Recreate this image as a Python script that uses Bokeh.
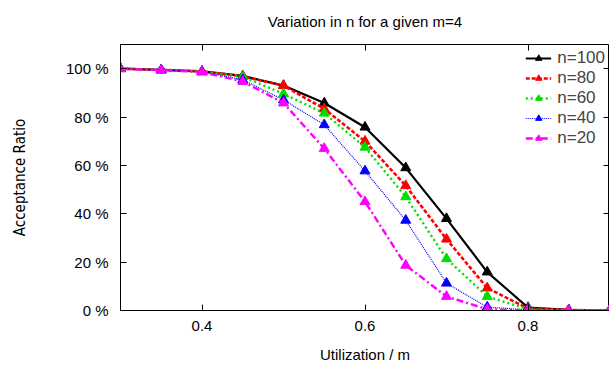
from bokeh.plotting import figure
from bokeh.models import LinearAxis, Range1d, FixedTicker, CustomJSTickFormatter, Legend, LegendItem
from bokeh.embed import file_html
from bokeh.resources import INLINE

utilization = [0.30, 0.35, 0.40, 0.45, 0.50, 0.55, 0.60, 0.65, 0.70, 0.75, 0.80, 0.85, 0.90]
n100 = [100, 99.5, 98.9, 97.0, 93.0, 85.8, 75.8, 59.0, 38.0, 15.9, 1.2, 0.3, 0.0]
n80 = [100, 99.5, 98.9, 96.8, 93.0, 83.4, 70.0, 51.6, 29.5, 9.3, 0.8, 0.2, 0.0]
n60 = [100, 99.5, 98.8, 96.7, 89.6, 81.6, 67.5, 47.0, 21.4, 5.8, 0.5, 0.1, 0.0]
n40 = [100, 99.5, 98.7, 95.4, 87.1, 76.8, 57.7, 37.3, 11.3, 1.4, 0.3, 0.0, 0.0]
n20 = [100, 99.4, 98.6, 94.7, 85.8, 67.0, 45.0, 18.7, 5.8, 0.5, 0.0, 0.0, 0.0]

series_names = ["n=100", "n=80", "n=60", "n=40", "n=20"]
series_vals = [n100, n80, n60, n40, n20]
colors = ["#000000", "#ff0000", "#00dd00", "#0000ff", "#ff00ff"]
dashes = ["solid", "4 2", "2 3", "1 1", "7 3 2 3"]
widths = [2.2, 2.6, 2.4, 1.2, 2.4]

y_ticks = [0, 20, 40, 60, 80, 100]
x_ticks = [0.4, 0.6, 0.8]

FONT = "Liberation Sans"
NARROW = "'DejaVu Sans Condensed', 'Liberation Sans Narrow', 'Liberation Sans', sans-serif"

p = figure(width=609, height=365, output_backend="svg", toolbar_location=None,
           x_range=Range1d(0.3, 0.9), y_range=Range1d(0, 110),
           min_border_left=120, min_border_right=0, min_border_top=10, min_border_bottom=55,
           title="Variation in n for a given m=4")
p.title.align = "center"
p.title.vertical_align = "top"
p.title.text_font = FONT
p.title.text_font_size = "15px"
p.title.text_font_style = "normal"
p.title.text_color = "#000000"
p.title.standoff = 25

p.grid.visible = False
p.outline_line_color = "#000000"
p.outline_line_width = 1
p.background_fill_color = "#ffffff"
p.border_fill_color = "#ffffff"

for ax in [p.xaxis[0], p.yaxis[0]]:
    ax.major_tick_in = 6
    ax.major_tick_out = 0
    ax.minor_tick_line_color = None
    ax.axis_line_color = "#000000"
    ax.major_tick_line_color = "#000000"
    ax.major_label_text_font = FONT
    ax.major_label_text_font_size = "15px"
    ax.major_label_text_color = "#000000"
    ax.axis_label_text_font_style = "normal"
    ax.axis_label_text_color = "#000000"

p.xaxis[0].ticker = FixedTicker(ticks=x_ticks)
p.xaxis[0].major_label_standoff = 10
p.xaxis[0].axis_label = "Utilization / m"
p.xaxis[0].axis_label_text_font = FONT
p.xaxis[0].axis_label_text_font_size = "15px"
p.xaxis[0].axis_label_standoff = 12

p.yaxis[0].ticker = FixedTicker(ticks=y_ticks)
p.yaxis[0].formatter = CustomJSTickFormatter(code="return tick.toFixed(0) + ' %';")
p.yaxis[0].major_label_standoff = 12
p.yaxis[0].axis_label = "Acceptance Ratio"
p.yaxis[0].axis_label_text_font = NARROW
p.yaxis[0].axis_label_text_font_size = "15px"
p.yaxis[0].axis_label_standoff = 34

blank = CustomJSTickFormatter(code="return '';")
top = LinearAxis(ticker=FixedTicker(ticks=x_ticks), formatter=blank,
                 major_tick_in=6, major_tick_out=0, minor_tick_line_color=None,
                 axis_line_color=None, major_label_standoff=0)
p.add_layout(top, "above")
right = LinearAxis(ticker=FixedTicker(ticks=y_ticks), formatter=CustomJSTickFormatter(code="return '';"),
                   major_tick_in=6, major_tick_out=0, minor_tick_line_color=None,
                   axis_line_color=None, major_label_standoff=0)
p.add_layout(right, "right")

items = []
for name, vals, c, d, w in zip(series_names, series_vals, colors, dashes, widths):
    r1 = p.line(utilization, vals, line_color=c, line_dash=d, line_width=w)
    r2 = p.scatter(utilization, vals, marker="triangle", size=10, fill_color=c, line_color=c)
    items.append(LegendItem(label=name, renderers=[r1, r2]))

legend = Legend(items=items, location="top_right", border_line_color=None,
                background_fill_alpha=0.0, label_text_font=FONT,
                label_text_font_size="17px", label_height=18, glyph_height=16,
                glyph_width=26, spacing=0, padding=2, margin=4,
                label_standoff=6)
p.add_layout(legend)

open("out.html", "w").write(file_html(p, INLINE))
